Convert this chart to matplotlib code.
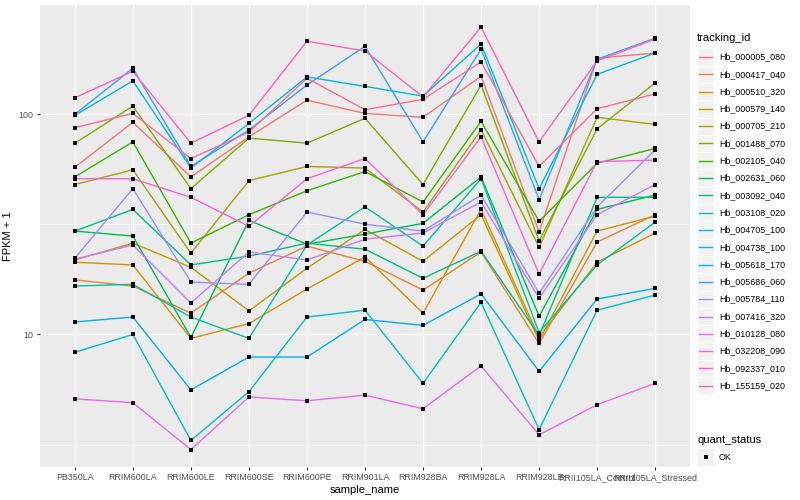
import numpy as np
import matplotlib
matplotlib.use('Agg')
import matplotlib.pyplot as plt
from matplotlib.lines import Line2D
from matplotlib.patches import Rectangle

plt.rcParams['font.family'] = ['Liberation Sans', 'DejaVu Sans']

# samples on the x axis
samples = ['PB350LA', 'RRIM600LA', 'RRIM600LE', 'RRIM600SE', 'RRIM600PE', 'RRIM901LA',
           'RRIM928BA', 'RRIM928LA', 'RRIM928LE', 'RRII105LA_Control', 'RRII105LA_Stressed']

tracking_ids = ['Hb_000005_080', 'Hb_000417_040', 'Hb_000510_320', 'Hb_000579_140',
                'Hb_000705_210', 'Hb_001488_070', 'Hb_002105_040', 'Hb_002631_060',
                'Hb_003092_040', 'Hb_003108_020', 'Hb_004705_100', 'Hb_004738_100',
                'Hb_005618_170', 'Hb_005686_060', 'Hb_005784_110', 'Hb_007416_320',
                'Hb_010128_080', 'Hb_032208_090', 'Hb_092337_010', 'Hb_155159_020']

# ggplot hue palette, 20 levels
colours = ['#F8766D', '#EA8331', '#D89000', '#C09B00', '#A3A500', '#7CAE00', '#39B600',
           '#00BB4E', '#00BF7D', '#00C1A3', '#00BFC4', '#00BAE0', '#00B0F6', '#35A2FF',
           '#9590FF', '#C77CFF', '#E76BF3', '#FA62DB', '#FF62BC', '#FF6C91']

# FPKM + 1, one list per gene (same order as samples)
hb_000005_080 = [57.5, 92, 52, 79, 116, 101, 97, 149, 29.2, 180, 190]
hb_000417_040 = [17.7, 16.6, 12.5, 19, 25.2, 21.5, 15.9, 23.7, 9.1, 26.3, 35]
hb_000510_320 = [21.3, 20.7, 9.6, 11.2, 16.1, 22.5, 12.5, 37, 9.7, 21.3, 28.9]
hb_000579_140 = [21.8, 26, 20.2, 12.8, 20, 30, 21.5, 35, 9.4, 29.5, 34.5]
hb_000705_210 = [48, 56, 23.4, 50, 58, 57, 36, 85, 24.9, 97, 90]
hb_001488_070 = [74, 109, 46, 78, 74, 96, 48, 136, 26.6, 86, 139]
hb_002105_040 = [52, 75, 26, 35, 45, 55, 40, 93, 32.7, 60, 70]
hb_002631_060 = [29.5, 28, 9.7, 33, 25.7, 28.6, 32, 52, 12.1, 37, 43]
hb_003092_040 = [29.5, 37, 20.7, 22.7, 26, 24.4, 18, 23.9, 9.9, 42, 42]
hb_003108_020 = [16.6, 16.9, 12, 9.6, 25.5, 38, 25.2, 51, 10.2, 20.7, 32.4]
hb_004705_100 = [8.3, 10, 3.3, 5.5, 12, 12.9, 6.0, 14, 3.7, 12.9, 15.1]
hb_004738_100 = [99, 142, 57, 91, 148, 134, 121, 209, 46, 152, 190]
hb_005618_170 = [11.4, 12, 5.6, 7.9, 7.9, 11.7, 11, 15.3, 6.8, 14.5, 16.2]
hb_005686_060 = [100, 162, 58, 85, 136, 204, 75, 198, 41, 178, 222]
hb_005784_110 = [22.2, 46, 17.3, 16.9, 36, 31.7, 29.5, 43, 15.4, 38, 69]
hb_007416_320 = [22, 25.5, 13.9, 23.7, 21.8, 27.1, 28.9, 40, 14.6, 35, 48]
hb_010128_080 = [5.1, 4.9, 3.0, 5.2, 5.0, 5.3, 4.6, 7.2, 3.5, 4.8, 6.0]
hb_032208_090 = [51, 51, 42, 31, 51, 63, 35, 79, 18.8, 61, 62]
hb_092337_010 = [119, 157, 74, 99, 215, 194, 120, 249, 75, 175, 220]
hb_155159_020 = [87, 101, 63, 83, 146, 105, 117, 173, 58, 106, 124]

series = [hb_000005_080, hb_000417_040, hb_000510_320, hb_000579_140, hb_000705_210,
          hb_001488_070, hb_002105_040, hb_002631_060, hb_003092_040, hb_003108_020,
          hb_004705_100, hb_004738_100, hb_005618_170, hb_005686_060, hb_005784_110,
          hb_007416_320, hb_010128_080, hb_032208_090, hb_092337_010, hb_155159_020]

W, H = 800, 500
fig = plt.figure(figsize=(8, 5), dpi=100)
ax = fig.add_axes([40 / W, 1 - 467 / H, 650 / W, 462 / H])
ax.set_facecolor('#EBEBEB')

x = np.arange(len(samples))
for vals, col in zip(series, colours):
    ax.plot(x, vals, color=col, lw=1.0, zorder=3)
for vals in series:
    ax.plot(x, vals, 's', color='black', ms=2.8, mew=0, zorder=4)

ax.set_yscale('log')
ax.set_ylim(2.5, 314)
ax.set_xlim(-0.6, 10.6)
ax.set_yticks([10, 100])
ax.set_yticklabels(['10', '100'])
ax.set_yticks([10 ** 0.5, 10 ** 1.5], minor=True)
ax.set_yticklabels([], minor=True)
ax.set_xticks(x)
ax.set_xticklabels(samples)

ax.tick_params(which='major', length=2.5, width=0.8, color='#333333',
               labelsize=6.4, labelcolor='#4D4D4D', pad=2)
ax.tick_params(which='minor', length=0)
for s in ax.spines.values():
    s.set_visible(False)
ax.set_axisbelow(True)
ax.grid(which='major', color='white', lw=1.0)
ax.yaxis.grid(which='minor', color='white', lw=0.5)

ax.set_xlabel('sample_name', fontsize=8, labelpad=2)
ax.set_ylabel('FPKM + 1', fontsize=8, labelpad=4)

# legend: tracking_id
def fx(px):
    return px / W

def fy(py):
    return 1 - py / H

fig.text(fx(697), fy(38), 'tracking_id', fontsize=8, va='center', ha='left')
step = 17.3
for i, (name, col) in enumerate(zip(tracking_ids, colours)):
    yc = 57 + i * step
    fig.add_artist(Rectangle((fx(697), fy(yc + step / 2)), 17 / W, step / H,
                             facecolor='#F2F2F2', edgecolor='white', lw=0.6,
                             transform=fig.transFigure))
    fig.add_artist(Line2D([fx(699), fx(712)], [fy(yc), fy(yc)], color=col, lw=1.0,
                          transform=fig.transFigure))
    fig.text(fx(719), fy(yc), name, fontsize=6.4, va='center', ha='left')

# legend: quant_status
fig.text(fx(697), fy(440), 'quant_status', fontsize=8, va='center', ha='left')
fig.add_artist(Rectangle((fx(697), fy(457 + step / 2)), 17 / W, step / H,
                         facecolor='#F2F2F2', edgecolor='white', lw=0.6,
                         transform=fig.transFigure))
fig.add_artist(Line2D([fx(705.5)], [fy(457)], marker='s', color='black', ms=2.8, mew=0,
                      transform=fig.transFigure))
fig.text(fx(719), fy(457), 'OK', fontsize=6.4, va='center', ha='left')

fig.savefig('out.png', dpi=100, facecolor='white')
